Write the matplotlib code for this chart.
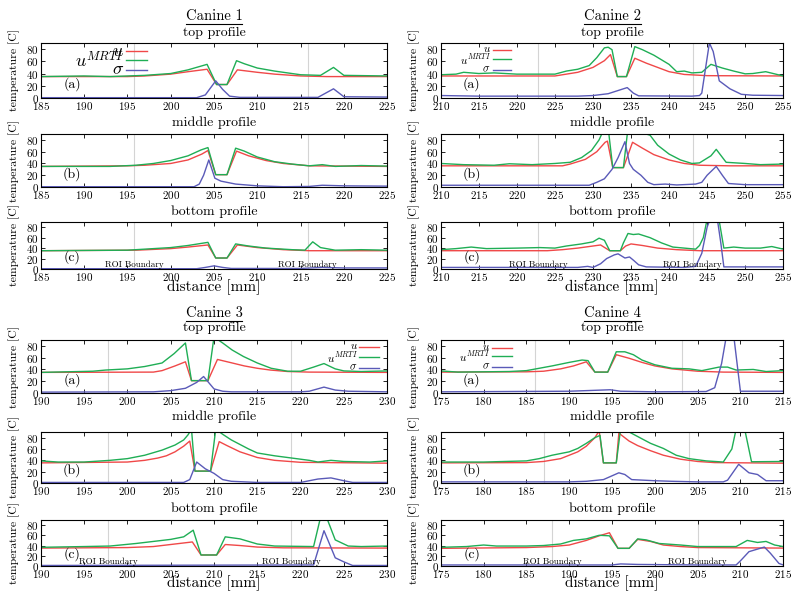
import matplotlib
matplotlib.use("Agg")
import matplotlib.pyplot as plt
from matplotlib.lines import Line2D

plt.rcParams['font.family'] = 'serif'
plt.rcParams['font.serif'] = ['cmr10', 'DejaVu Serif']
plt.rcParams['mathtext.fontset'] = 'cm'
plt.rcParams['axes.formatter.use_mathtext'] = True

RED = '#f04848'
GREEN = '#1fae55'
BLUE = '#5a5ab8'

# --- Canine 1 (x: 185-225) ---
C1_TOP_U = [(185, 35), (195, 35), (197, 36), (200, 39), (202, 43), (204.2, 47), (205.3, 22), (206.5, 22),
            (207.7, 46), (210, 42), (212, 39), (215, 36), (218, 35), (225, 35)]
C1_TOP_M = [(185, 35), (190, 36), (193, 35), (197, 37), (200, 40), (202, 46), (204.2, 55), (205.3, 22),
            (206.5, 22), (207.6, 61), (208.5, 56), (210, 49), (212, 44), (215, 38), (217.3, 37), (218.8, 50),
            (220, 37), (225, 36)]
C1_TOP_S = [(185, 0.5), (203, 0.5), (204, 5), (205.2, 28), (206, 14), (206.8, 3), (208, 1), (217, 1),
            (218.8, 15), (220, 2), (225, 1.5)]
C1_MID_U = [(185, 35), (195, 36), (197, 37), (200, 40), (202, 46), (203.6, 56), (204.3, 62), (205.2, 21),
            (206.5, 21), (207.6, 61), (209, 53), (211, 45), (213, 40), (216, 36), (225, 35)]
C1_MID_M = [(185, 35), (193, 35), (196, 37), (198, 40), (200, 45), (202, 53), (203.5, 63), (204.3, 67),
            (205.2, 21), (206.5, 21), (207.5, 66), (208.5, 61), (210, 51), (212, 43), (214, 39), (216, 36),
            (217.5, 38), (219, 35), (222, 36.5), (225, 35.5)]
C1_MID_S = [(185, 0.5), (202.7, 0.5), (203.3, 5), (203.8, 20), (204.4, 46), (205.1, 15), (205.8, 10),
            (207.5, 5), (210, 2), (213, 0.5), (216, 1), (217.5, 3), (220, 2), (225, 1.5)]
C1_BOT_U = [(185, 35), (196, 36), (200, 39), (202, 42), (204.3, 46), (205.2, 21), (206.5, 21), (207.7, 46),
            (210, 41), (213, 37), (216, 35), (225, 35)]
C1_BOT_M = [(185, 35), (195, 36), (200, 41), (202, 45), (204.3, 51), (205.2, 21), (206.5, 21), (207.5, 48),
            (209, 44), (211, 40), (214, 37), (215.5, 36), (216.4, 52), (217.3, 41), (219, 36), (222, 37),
            (225, 36)]
C1_BOT_S = [(185, 0.5), (203, 0.5), (204, 3), (205, 6), (206, 3), (207, 1), (215, 1), (217.5, 3), (220, 2),
            (225, 2)]

# --- Canine 2 (x: 210-255) ---
C2_TOP_U = [(210, 36), (225, 36), (226, 38), (228, 42), (230, 50), (231.5, 61), (232.3, 71), (233.2, 35),
            (234.4, 35), (235.5, 65), (237, 57), (238.5, 50), (240, 43), (242, 38.5), (245, 36.5), (255, 36)]
C2_TOP_M = [(210, 38), (212, 39), (213, 42), (215, 40), (217, 41), (220, 39), (225, 39), (226.5, 44),
            (228, 47), (229.5, 53), (230.5, 66), (231.5, 82), (232, 83), (232.5, 79), (233.2, 35), (234.4, 35),
            (235.5, 84), (236.5, 79), (238, 70), (240, 55), (241, 43), (242, 44), (243, 41), (244.3, 42),
            (245.5, 55), (247, 49), (248.5, 44), (250, 39.5), (251, 40), (252.7, 43), (255, 36)]
C2_TOP_S = [(210, 4), (215, 3), (228, 3), (230, 4), (232, 7), (233.5, 13), (234.5, 17), (235.3, 8),
            (236, 3.5), (243, 3), (244, 4), (244.3, 8), (245.3, 90), (245.8, 76), (246.6, 28), (248, 15),
            (249.5, 6), (251, 4.5), (255, 4)]
C2_MID_U = [(210, 36), (226, 36), (227, 39), (229, 47), (230.5, 60), (231.6, 76), (231.9, 78), (232.6, 33),
            (234, 33), (235.2, 76), (236.5, 66), (238, 55), (240, 46), (242, 40), (244, 37), (248, 36),
            (255, 36)]
C2_MID_M = [(210, 40), (213, 38), (217, 37), (219, 39.5), (222, 38), (225, 40), (227, 42), (228.5, 50),
            (229.8, 62), (230.8, 80), (231.5, 100), (232, 100), (232.6, 33), (234, 33), (234.6, 100),
            (235.5, 100), (236.5, 92), (237.5, 88), (238.5, 71), (240, 56), (241.5, 46), (243, 40), (244, 41),
            (245.5, 53), (246.2, 64), (247.5, 42), (250, 40), (252, 38), (255, 39)]
C2_MID_S = [(210, 3), (229.5, 3), (230.5, 8), (231.5, 14), (232.5, 30), (233.3, 50), (234.2, 77),
            (234.8, 40), (235.3, 30), (236.3, 20), (237.2, 8), (238, 4), (239.5, 5), (241, 3.5), (243.5, 5),
            (244.3, 8), (245, 20), (246.2, 35), (247, 20), (247.8, 6), (250, 4), (255, 4)]
C2_BOT_U = [(210, 35), (224, 35), (226, 37), (228, 40), (230, 44), (231, 46), (232.2, 35), (233.6, 35),
            (234.3, 44), (235, 48), (236.5, 45), (238.5, 40), (241, 37), (244, 35), (255, 35)]
C2_BOT_M = [(210, 37), (212, 39), (214, 42), (216, 39), (220, 40), (223, 41), (225, 40), (226.5, 44),
            (228.5, 48), (230, 52), (230.8, 59), (231.5, 55), (232.2, 35), (233.6, 35), (234, 50), (234.6, 68),
            (235.3, 66), (236, 67), (237.5, 60), (239, 50), (240.5, 42), (242, 40), (243.5, 38), (244, 45),
            (244.5, 60), (245, 95), (246.5, 100), (247.2, 40), (248.5, 42), (250, 40), (252, 40), (253.5, 43),
            (255, 38)]
C2_BOT_S = [(210, 3), (228, 3), (229.3, 5), (230, 3), (231, 10), (231.8, 20), (232.8, 27), (233.3, 29),
            (234.2, 21), (234.8, 23), (235.3, 17), (236, 8), (237, 4), (242, 3), (243.5, 5), (244.3, 30),
            (245, 80), (245.5, 100), (246.3, 100), (246.8, 50), (247.2, 4), (255, 4)]

# --- Canine 3 (x: 190-230) ---
C3_TOP_U = [(190, 35), (203, 35.5), (204, 38), (205.5, 46), (206.7, 53), (207.4, 21), (209.3, 21),
            (210.4, 57), (212.1, 51), (213.5, 46), (215, 42), (216.5, 39), (218.5, 36.5), (221, 35.5),
            (230, 35)]
C3_TOP_M = [(190, 35), (193, 36), (196, 37), (197.5, 39), (200, 41), (202, 45), (204, 51), (205.4, 67),
            (206.7, 85), (207.4, 21), (209.3, 21), (210, 95), (211, 85), (212.1, 73), (213.4, 62), (215, 51),
            (216.6, 42), (218.5, 37), (220, 37), (221.5, 44), (222.7, 50), (224, 41), (225, 37.5),
            (227, 36.5), (230, 37.5)]
C3_TOP_S = [(190, 1.5), (203, 2), (205, 4), (206.7, 8), (208, 18), (208.8, 28), (210, 7), (211, 3),
            (212, 2), (220, 2), (221, 3), (222.7, 10), (224, 5), (225.5, 3), (230, 2)]
C3_MID_U = [(190, 35.5), (200, 37), (202, 40), (203.5, 44), (204.5, 48), (205.5, 55), (206.5, 65),
            (207.2, 74), (207.8, 21), (209.6, 21), (210.6, 73), (211.5, 66), (213, 55), (215, 45), (217, 40),
            (220, 36.5), (230, 35)]
C3_MID_M = [(190, 39), (192, 37), (195, 37), (198, 40), (200, 43), (202, 49), (204, 58), (205.5, 67),
            (206.5, 76), (207, 85), (207.4, 95), (207.8, 21), (209.6, 21), (210.2, 95), (211, 86), (212, 76),
            (213, 68), (214, 60), (215, 53), (217, 48), (219, 44), (221, 40), (222, 37), (223.5, 40),
            (225, 38), (228, 37), (230, 39)]
C3_MID_S = [(190, 1), (206.5, 1), (207.2, 6), (208, 37), (209, 25), (210, 17), (211, 6), (212, 3),
            (215, 1), (220, 1), (221, 4), (222, 7), (223.5, 9), (225, 4), (226, 1), (230, 1)]
C3_BOT_U = [(190, 35), (200, 36), (203, 38), (205, 42), (207.5, 47), (208.5, 21.5), (210.3, 21.5),
            (211.3, 42), (213, 40), (215, 37), (218, 35.5), (230, 35)]
C3_BOT_M = [(190, 36.5), (195, 38), (198, 39), (201, 44), (203, 48), (205, 52), (206.5, 57), (207.6, 70),
            (208.5, 21.5), (210.3, 21.5), (211.3, 57), (213, 53), (215, 43), (217, 39), (221.5, 38),
            (222.3, 95), (223, 95), (224, 51), (225.5, 39), (227, 38), (230, 39)]
C3_BOT_S = [(190, 1), (221.5, 2), (222.7, 69), (224, 16), (225, 8), (226, 1), (230, 1)]

# --- Canine 4 (x: 175-215) ---
C4_TOP_U = [(175, 35.5), (185, 36), (187, 37), (189, 41), (190.5, 46), (192, 53), (193, 35.5),
            (194.5, 35.5), (195.5, 65), (197, 59), (198.5, 52), (200, 46), (202, 41), (205, 37),
            (208, 35.5), (215, 35)]
C4_TOP_M = [(175, 37.5), (177, 35.5), (180, 36), (183, 36.5), (185, 38), (186.5, 42), (188, 46), (190, 52),
            (191.5, 56), (192.2, 55), (193, 35.5), (194.5, 35.5), (195.5, 70), (196.5, 70), (197.5, 65),
            (198.5, 56), (200, 48), (202, 42), (204, 41), (205.5, 38), (207.5, 44), (208.5, 44),
            (209.5, 39), (211.5, 40), (213, 36.5), (215, 38)]
C4_TOP_S = [(175, 2), (190, 3), (194.8, 5.5), (196, 3), (200, 2), (206, 2.5), (207, 9), (207.8, 50),
            (208.4, 100), (209.2, 100), (210, 3), (215, 3)]
C4_MID_U = [(175, 35.5), (185, 36), (187, 38), (189, 43), (191, 55), (192, 65), (193, 80), (193.5, 92),
            (194, 35.5), (195.5, 35.5), (195.8, 88), (197, 74), (198, 66), (199.5, 57), (201, 49),
            (203, 42), (205, 38), (207, 36), (215, 35)]
C4_MID_M = [(175, 37), (180, 37), (185, 39), (186.5, 43), (188, 49), (190, 55), (191, 61), (192, 70),
            (193, 80), (193.6, 84), (194, 35.5), (195.5, 35.5), (196, 95), (197, 90), (198, 82), (199.5, 70),
            (201, 61), (202.5, 49), (204, 43), (206, 39), (208, 37), (209, 60), (209.5, 95), (210.5, 95),
            (211.3, 37.5), (215, 38)]
C4_MID_S = [(175, 2), (190, 2), (192, 3), (194, 6), (195.8, 18), (196.5, 15), (197.3, 6), (200, 4),
            (202, 3), (205, 2), (208, 2), (208.5, 5), (209.8, 33), (211, 18), (212, 15), (213, 4), (215, 4)]
C4_BOT_U = [(175, 34.5), (185, 36), (188, 38), (190, 41), (192, 50), (193.5, 59), (194.7, 65),
            (195.7, 34.5), (197, 34.5), (198, 52), (199.5, 48), (201, 41), (203, 38), (205, 36), (215, 35)]
C4_BOT_M = [(175, 36.5), (178, 38), (180, 41), (181.5, 39), (185, 39), (187, 40), (189, 43), (190.5, 50),
            (192, 53), (193.5, 60), (194.7, 59), (195.7, 34.5), (197, 34.5), (198, 53), (199, 51),
            (200.5, 44), (203, 41), (205, 38), (207, 38), (209.5, 38), (210.8, 50), (212, 46), (213, 48),
            (214, 41), (215, 38)]
C4_BOT_S = [(175, 2), (195, 2), (196, 4), (197, 3.5), (198, 3), (205, 2), (209.5, 2), (210, 10), (211, 28),
            (212.8, 37), (213.5, 25), (214.5, 5), (215, 2)]

# ROI boundary positions (mm) per panel
C1_ROI = [[195.8, 215.8], [195.8, 215.8], [195.8, 215.8]]
C2_ROI = [[222.8, 243.1], [222.8, 243.1], [222.8, 243.1]]
C3_ROI = [[197.8, 218.9], [197.8, 218.9], [197.8, 218.9]]
C4_ROI = [[186.0, 203.2], [187.0, 204.0], [188.0, 205.0]]

XLIMS = [(185, 225), (210, 255), (190, 230), (175, 215)]
TITLES = ["Canine 1", "Canine 2", "Canine 3", "Canine 4"]
PROFILES = ["top profile", "middle profile", "bottom profile"]
PANEL_TAGS = ["(a)", "(b)", "(c)"]
LEGEND_LABELS = [r"$u$", r"$u^{MRTI}$", r"$\sigma$"]

canines = [
    ([(C1_TOP_U, C1_TOP_M, C1_TOP_S), (C1_MID_U, C1_MID_M, C1_MID_S), (C1_BOT_U, C1_BOT_M, C1_BOT_S)], C1_ROI),
    ([(C2_TOP_U, C2_TOP_M, C2_TOP_S), (C2_MID_U, C2_MID_M, C2_MID_S), (C2_BOT_U, C2_BOT_M, C2_BOT_S)], C2_ROI),
    ([(C3_TOP_U, C3_TOP_M, C3_TOP_S), (C3_MID_U, C3_MID_M, C3_MID_S), (C3_BOT_U, C3_BOT_M, C3_BOT_S)], C3_ROI),
    ([(C4_TOP_U, C4_TOP_M, C4_TOP_S), (C4_MID_U, C4_MID_M, C4_MID_S), (C4_BOT_U, C4_BOT_M, C4_BOT_S)], C4_ROI),
]

# layout (figure fractions)
COL_X = [(0.051, 0.433), (0.551, 0.428)]
ROWS = [
    [(0.8367, 0.0917), (0.6883, 0.0883), (0.5517, 0.0783)],
    [(0.345, 0.0883), (0.195, 0.085), (0.0567, 0.0767)],
]
TEXT_Y = [
    dict(title=0.973, prof=[0.945, 0.795, 0.647], xlabel=0.522),
    dict(title=0.478, prof=[0.453, 0.305, 0.153], xlabel=0.028),
]
# legend: (x of handle start, x of handle end, row y's, fontsize)
LEGENDS = [
    (0.245, 0.306, [0.85, 0.69, 0.51], 13),
    (0.151, 0.205, [0.88, 0.70, 0.51], 8),
    (0.920, 0.976, [0.875, 0.675, 0.48], 8),
    (0.149, 0.207, [0.856, 0.69, 0.50], 8),
]

fig = plt.figure(figsize=(8, 6), dpi=100)
title_texts = []

for k, ((panels, rois), xlim) in enumerate(zip(canines, XLIMS)):
    col = k % 2
    blk = k // 2
    x0, w = COL_X[col]
    xc = x0 + w / 2
    ty = TEXT_Y[blk]
    title_texts.append(fig.text(xc, ty['title'], TITLES[k], ha='center', va='center', fontsize=10.5))

    for j, (series, roi) in enumerate(zip(panels, rois)):
        b, h = ROWS[blk][j]
        ax = fig.add_axes([x0, b, w, h])
        for xv in roi:
            ax.axvline(xv, color='#d4d4d4', lw=0.8, zorder=0)
        for pts, c in zip(series, [RED, GREEN, BLUE]):
            ax.plot([p[0] for p in pts], [p[1] for p in pts], color=c, lw=1.0)
        ax.set_xlim(*xlim)
        ax.set_ylim(0, 90)
        ax.set_xticks(range(xlim[0], xlim[1] + 1, 5))
        ax.set_yticks([0, 20, 40, 60, 80])
        ax.tick_params(direction='in', top=True, right=True, length=3, width=0.6,
                       labelsize=8, pad=1.5)
        for s in ax.spines.values():
            s.set_linewidth(0.8)
        ax.text(0.09, 0.25, PANEL_TAGS[j], transform=ax.transAxes, ha='center', va='center', fontsize=10)
        fig.text(0.018 if col == 0 else 0.518, b + h / 2, "temperature [C]", rotation=90,
                 ha='center', va='center', fontsize=8.5)
        fig.text(xc, ty['prof'][j], PROFILES[j], ha='center', va='center', fontsize=10)
        if j == 2:
            for xv in roi:
                ax.text(xv, 8, "ROI Boundary", ha='center', va='center', fontsize=6.5)
        if j == 0:
            hx0, hx1, rows_y, fs = LEGENDS[k]
            for lab, c, yy in zip(LEGEND_LABELS, [RED, GREEN, BLUE], rows_y):
                ax.add_line(Line2D([hx0, hx1], [yy, yy], transform=ax.transAxes, color=c, lw=1.0))
                ax.text(hx0 - 0.005, yy, lab, transform=ax.transAxes, ha='right', va='center', fontsize=fs)

    fig.text(xc, ty['xlabel'], "distance [mm]", ha='center', va='center', fontsize=11)

# underline the canine titles
fig.canvas.draw()
rend = fig.canvas.get_renderer()
inv = fig.transFigure.inverted()
for t in title_texts:
    bb = t.get_window_extent(rend)
    (ax0, ay0), (ax1, _) = inv.transform([(bb.x0, bb.y0), (bb.x1, bb.y1)])
    fig.add_artist(Line2D([ax0, ax1], [ay0 - 0.002, ay0 - 0.002], transform=fig.transFigure,
                          color='black', lw=0.8))

fig.savefig("out.png", dpi=100)
